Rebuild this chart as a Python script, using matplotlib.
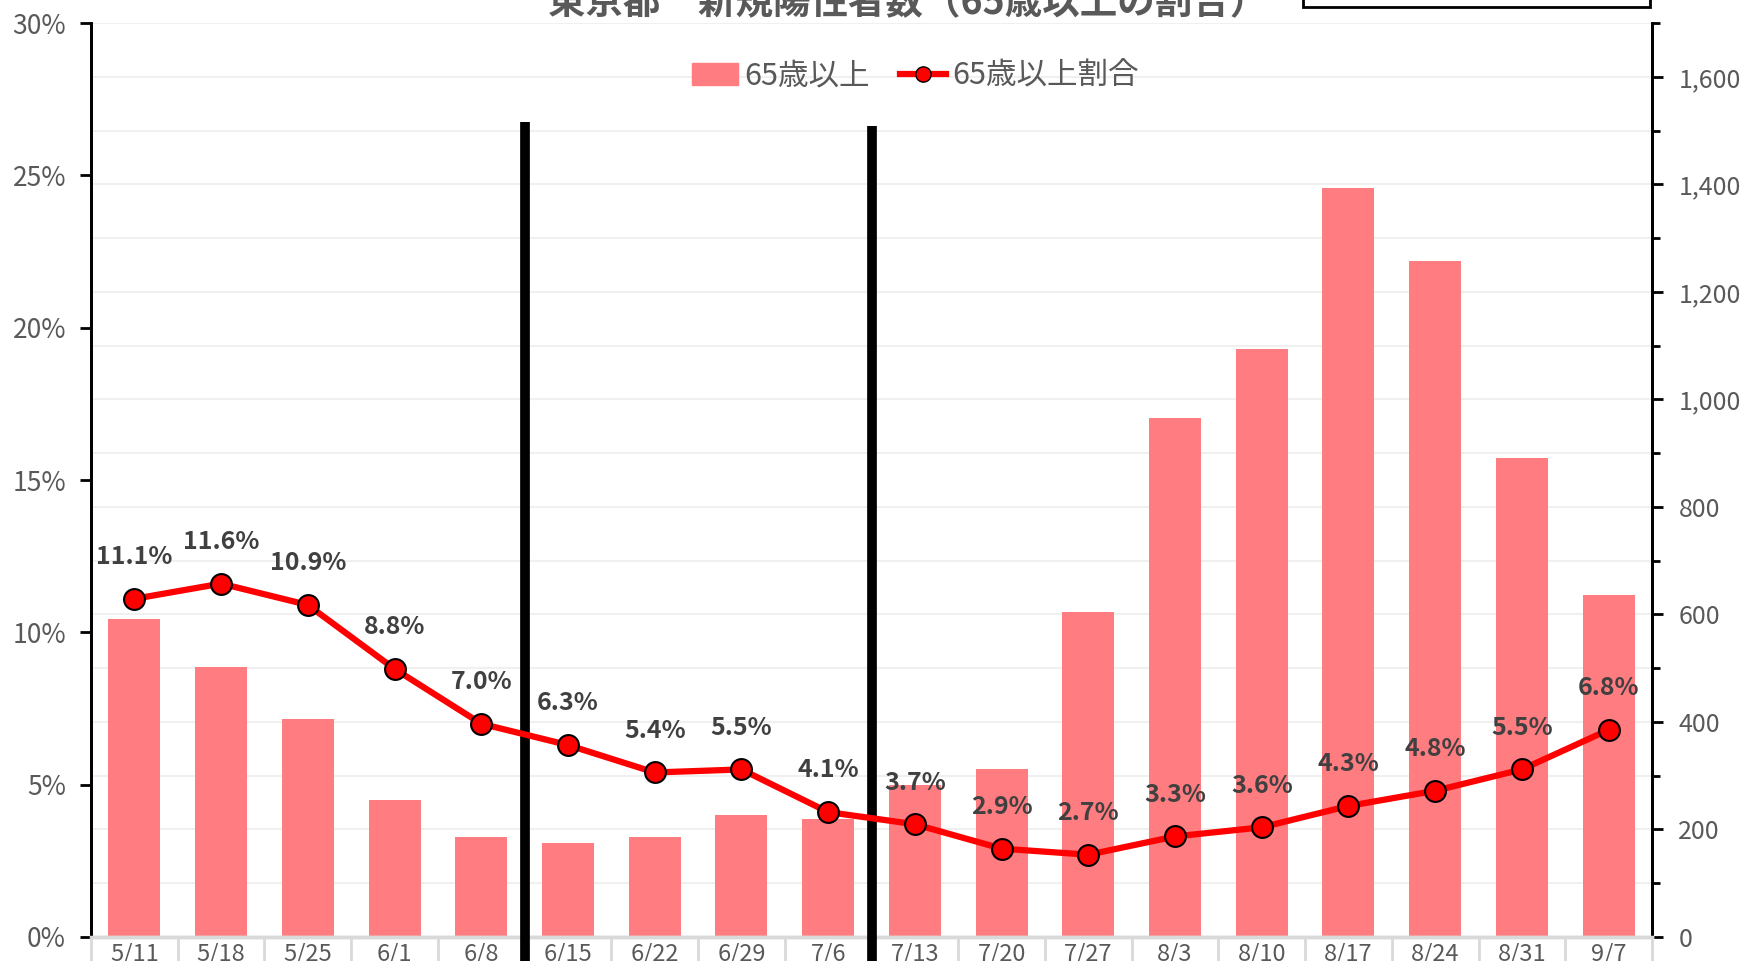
import numpy as np
import matplotlib
matplotlib.use("Agg")
import matplotlib.pyplot as plt
import matplotlib.transforms as mtransforms
from matplotlib.patches import Rectangle, Patch
from matplotlib.lines import Line2D
from matplotlib.ticker import FuncFormatter, MultipleLocator

plt.rcParams['font.family'] = ['Noto Sans CJK JP', 'DejaVu Sans']

# データ
weeks = ['5/11', '5/18', '5/25', '6/1', '6/8', '6/15', '6/22', '6/29', '7/6',
         '7/13', '7/20', '7/27', '8/3', '8/10', '8/17', '8/24', '8/31', '9/7']
cases_65plus = [591, 502, 405, 254, 186, 174, 186, 227, 219,
                283, 312, 604, 965, 1094, 1393, 1257, 891, 637]
ratio_65plus = [11.1, 11.6, 10.9, 8.8, 7.0, 6.3, 5.4, 5.5, 4.1,
                3.7, 2.9, 2.7, 3.3, 3.6, 4.3, 4.8, 5.5, 6.8]
divider_pos = [4.5, 8.5]

gray = '#595959'
x = np.arange(len(weeks))

fig = plt.figure(figsize=(17.43, 9.61), dpi=100)
ax = fig.add_axes([0.0522, 0.025, 0.8956, 0.951])
ax2 = ax.twinx()
ax.set_zorder(ax2.get_zorder() + 1)
ax.patch.set_visible(False)

# 棒グラフ（右軸）
ax2.bar(x, cases_65plus, width=0.6, color='#FF7C80', zorder=2)
ax2.set_ylim(0, 1700)
ax2.yaxis.set_major_locator(MultipleLocator(200))
ax2.yaxis.set_minor_locator(MultipleLocator(100))
ax2.yaxis.set_major_formatter(FuncFormatter(lambda v, p: f'{int(v):,}' if v <= 1600 else ''))
for v in range(0, 1800, 100):
    ax2.axhline(v, color='#f0f0f0', lw=1.5, zorder=0)

# 区切り線
trans = mtransforms.blended_transform_factory(ax.transData, ax.transAxes)
for xp, top in zip(divider_pos, [0.892, 0.887]):
    ax.plot([xp, xp], [-0.2, top], color='black', lw=7, transform=trans,
            clip_on=False, zorder=3, solid_capstyle='butt')

# 折れ線（左軸）
ax.plot(x, ratio_65plus, color='#FF0000', lw=4.5, marker='o', markersize=15,
        markerfacecolor='#FF0000', markeredgecolor='black', markeredgewidth=1.5,
        zorder=4, label='65歳以上割合')
for xi, r in zip(x, ratio_65plus):
    ax.annotate(f'{r:.1f}%', (xi, r), xytext=(0, 30), textcoords='offset points',
                ha='center', va='center', fontsize=18, fontweight='bold',
                color='#404040', zorder=5)

ax.set_ylim(0, 30)
ax.set_xlim(-0.5, len(weeks) - 0.5)
ax.yaxis.set_major_locator(MultipleLocator(5))
ax.yaxis.set_major_formatter(FuncFormatter(lambda v, p: f'{int(v)}%'))

ax.set_xticks(x)
ax.set_xticklabels(weeks)
ax.set_xticks(np.arange(-0.5, len(weeks), 1), minor=True)
ax.tick_params(axis='x', which='major', length=0, pad=4, labelsize=17, labelcolor=gray)
ax.tick_params(axis='x', which='minor', length=40, width=2, color='#d9d9d9')
ax.tick_params(axis='y', which='major', length=8, width=2, direction='out',
               labelsize=19, labelcolor=gray, pad=10)
ax2.tick_params(axis='y', which='major', length=8, width=2, labelsize=18,
                labelcolor=gray, pad=11)
ax2.tick_params(axis='y', which='minor', length=6, width=2)

for a in (ax, ax2):
    a.spines['top'].set_visible(False)
    a.spines['left'].set_linewidth(2)
    a.spines['right'].set_linewidth(2)
    a.spines['bottom'].set_color('#d9d9d9')
    a.spines['bottom'].set_linewidth(2.5)

# 凡例
handles = [Patch(color='#FF7C80', label='65歳以上'),
           Line2D([], [], color='#FF0000', lw=4.5, marker='o', markersize=11,
                  markerfacecolor='#FF0000', markeredgecolor='black',
                  label='65歳以上割合')]
ax.legend(handles=handles, loc='center', bbox_to_anchor=(0.528, 0.942), ncol=2,
          frameon=False, fontsize=22, labelcolor=gray, handlelength=1.5,
          handletextpad=0.2, columnspacing=1.0)

# タイトル（上端で切れている）
fig.text(0.521, 0.997, '東京都　新規陽性者数（65歳以上の割合）', ha='center',
         va='center', fontsize=27, fontweight='bold', color=gray)
fig.patches.append(Rectangle((1303 / 1743, 1 - 7 / 961), 347 / 1743, 0.05,
                             transform=fig.transFigure, fill=True,
                             facecolor='white', edgecolor='black', lw=2))

fig.savefig('out.png', dpi=100)
